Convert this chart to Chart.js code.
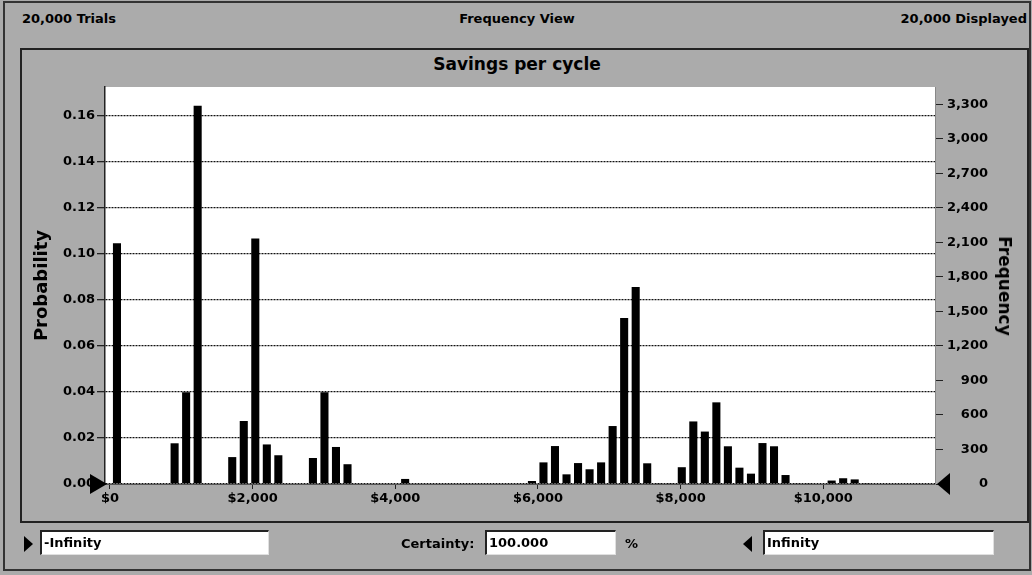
<!DOCTYPE html>
<html>
<head>
<meta charset="utf-8">
<title>Savings per cycle</title>
<script src="https://cdn.jsdelivr.net/npm/chart.js@4.4.1/dist/chart.umd.min.js"></script>
<style>
  body {
    margin: 0;
    width: 1032px;
    height: 575px;
    overflow: hidden;
    position: relative;
    background: #ababab;
    font-family: "DejaVu Sans", sans-serif;
    font-weight: bold;
    font-size: 13px;
    color: #000;
  }
  .abs { position: absolute; }
  #marco { left: 3px; top: 1px; width: 1024px; height: 566px; border: 2px solid #333; }
  #panel { left: 20px; top: 48px; width: 1005px; height: 471px; border: 2px solid #222; }
  #contenedor { left: 0; top: 0; width: 1032px; height: 575px; }
  .txt { line-height: 16px; white-space: nowrap; }
  #titulo {
    left: 0; width: 1034px; top: 54px;
    text-align: center;
    font-size: 17px; line-height: 20px;
  }
  #tituloFrecuencia {
    left: 1005px; top: 286px;
    font-size: 17px; line-height: 20px;
    transform: translate(-50%, -50%) rotate(90deg);
    white-space: nowrap;
  }
  .caja {
    background: #fff;
    height: 25px;
    box-sizing: border-box;
    border-top: 2px solid #222;
    border-left: 2px solid #222;
    border-right: 1px solid #e0e0e0;
    border-bottom: 1px solid #e0e0e0;
    line-height: 21px;
    padding-left: 2px;
    white-space: nowrap;
  }
  .tri-der { width: 0; height: 0; border-top: 8px solid transparent; border-bottom: 8px solid transparent; border-left: 9px solid #000; }
  .tri-izq { width: 0; height: 0; border-top: 8px solid transparent; border-bottom: 8px solid transparent; border-right: 9px solid #000; }
</style>
</head>
<body>
<div id="marco" class="abs"></div>
<div id="panel" class="abs"></div>

<div class="abs txt" style="left:22px; top:11px;">20,000 Trials</div>
<div class="abs txt" style="left:0; width:1034px; top:11px; text-align:center;">Frequency View</div>
<div class="abs txt" style="right:5px; top:11px;">20,000 Displayed</div>

<div id="titulo" class="abs">Savings per cycle</div>
<div id="contenedor" class="abs"><canvas id="chartFrecuencia"></canvas></div>
<div id="tituloFrecuencia" class="abs">Frequency</div>

<div class="abs tri-der" style="left:24px; top:536px;"></div>
<div class="abs caja" style="left:40px; top:530px; width:229px;">-Infinity</div>
<div class="abs txt" style="left:401px; top:536px;">Certainty:</div>
<div class="abs caja" style="left:485px; top:530px; width:131px;">100.000</div>
<div class="abs txt" style="left:625px; top:536px;">%</div>
<div class="abs tri-izq" style="left:743px; top:536px;"></div>
<div class="abs caja" style="left:763px; top:530px; width:231px;">Infinity</div>

<script>
// Histograma de ahorro por ciclo (vista de frecuencia)

const ensayos = 20000;
const inicioClase = 17;     // $ limite inferior de la primera clase
const anchoClase = 161.6;   // $ por clase

// probabilidad de cada clase
const probabilidades = [
  0.1047, 0, 0, 0, 0, 0.0177, 0.0399, 0.1645, 0, 0,
  0.0117, 0.0274, 0.1067, 0.0172, 0.0125, 0, 0, 0.0113, 0.0399, 0.0161,
  0.0086, 0, 0, 0, 0, 0.0022, 0, 0, 0, 0,
  0, 0, 0, 0, 0, 0.0003, 0.0013, 0.0094, 0.0165, 0.0042,
  0.0091, 0.0064, 0.0094, 0.0252, 0.0722, 0.0857, 0.0090, 0.0004, 0.0004, 0.0073,
  0.0272, 0.0228, 0.0355, 0.0164, 0.0071, 0.0045, 0.0178, 0.0164, 0.0039, 0.0002,
  0.0002, 0, 0.0015, 0.0025, 0.0020, 0.0004
];

const ticksDolares = [0, 2000, 4000, 6000, 8000, 10000];
const ticksProbabilidad = [0, 0.02, 0.04, 0.06, 0.08, 0.10, 0.12, 0.14, 0.16];
const ticksFrecuencia = [0, 300, 600, 900, 1200, 1500, 1800, 2100, 2400, 2700, 3000, 3300];

const xMin = -70;
const xMax = 11566;
const probMax = 0.1726;

Chart.defaults.font.family = "'DejaVu Sans', sans-serif";
Chart.defaults.font.size = 13;
Chart.defaults.font.weight = "bold";
Chart.defaults.color = "#000";

// fondo blanco del area de trazado
const fondoBlanco = {
  id: "fondoBlanco",
  beforeDraw(chart) {
    const { ctx, chartArea: a } = chart;
    ctx.save();
    ctx.fillStyle = "#fff";
    ctx.fillRect(a.left, a.top, a.right - a.left, a.bottom - a.top);
    ctx.restore();
  }
};

// marcadores triangulares en los extremos del eje
const marcadores = {
  id: "marcadores",
  afterDraw(chart) {
    const { ctx, chartArea: a } = chart;
    ctx.save();
    ctx.fillStyle = "#000";
    ctx.beginPath();
    ctx.moveTo(a.left + 2, a.bottom);
    ctx.lineTo(a.left - 15, a.bottom - 10);
    ctx.lineTo(a.left - 15, a.bottom + 10);
    ctx.closePath();
    ctx.fill();
    ctx.beginPath();
    ctx.moveTo(a.right + 2, a.bottom);
    ctx.lineTo(a.right + 15, a.bottom - 11);
    ctx.lineTo(a.right + 15, a.bottom + 11);
    ctx.closePath();
    ctx.fill();
    ctx.restore();
  }
};

function fijarTicks(valores) {
  return (scale) => {
    scale.ticks = valores.map((v) => ({ value: v }));
  };
}

const datosBarras = probabilidades.map((p, i) => ({
  x: inicioClase + (i + 0.5) * anchoClase,
  y: p
}));

const ctx = document.getElementById("chartFrecuencia");
const chartFrecuencia = new Chart(ctx, {
  type: "bar",
  data: {
    datasets: [
      {
        label: "Probability",
        data: datosBarras,
        backgroundColor: "#000",
        borderWidth: 0,
        barPercentage: 0.7,
        categoryPercentage: 1.0,
        yAxisID: "y"
      }
    ]
  },
  options: {
    responsive: true,
    maintainAspectRatio: false,
    animation: false,
    layout: { padding: { left: 20, right: 44, top: 87, bottom: 61 } },
    plugins: {
      legend: { display: false },
      tooltip: { enabled: false },
      title: { display: false }
    },
    scales: {
      x: {
        type: "linear",
        offset: false,
        min: xMin,
        max: xMax,
        afterBuildTicks: fijarTicks(ticksDolares),
        afterFit: (s) => { s.height = 30; },
        ticks: {
          padding: 2,
          maxRotation: 0,
          callback: (v) => "$" + Number(v).toLocaleString("en-US")
        },
        grid: { display: true, offset: false, drawOnChartArea: false, drawTicks: true, tickLength: 5, tickColor: "#222" },
        border: { display: true, color: "#555", width: 1 }
      },
      y: {
        position: "left",
        min: 0,
        max: probMax,
        afterBuildTicks: fijarTicks(ticksProbabilidad),
        afterFit: (s) => { s.width = 85; },
        ticks: {
          padding: 2,
          callback: (v) => Number(v).toFixed(2)
        },
        grid: { color: "#111", lineWidth: 1.3, tickLength: 8, tickColor: "#222" },
        border: { display: true, color: "#222", width: 1.5, dash: [2, 1] },
        title: {
          display: true,
          text: "Probability",
          font: { size: 18, weight: "bold" },
          color: "#000",
          padding: { top: 11.2 }
        }
      },
      yFrecuencia: {
        position: "right",
        min: 0,
        max: probMax * ensayos,
        afterBuildTicks: fijarTicks(ticksFrecuencia),
        afterFit: (s) => { s.width = 53; },
        ticks: {
          padding: 4,
          crossAlign: "far",
          callback: (v) => Number(v).toLocaleString("en-US")
        },
        grid: { display: true, drawOnChartArea: false, tickLength: 8, tickColor: "#222" },
        border: { display: true, color: "#888", width: 1 }
      }
    }
  },
  plugins: [fondoBlanco, marcadores]
});
</script>
</body>
</html>
